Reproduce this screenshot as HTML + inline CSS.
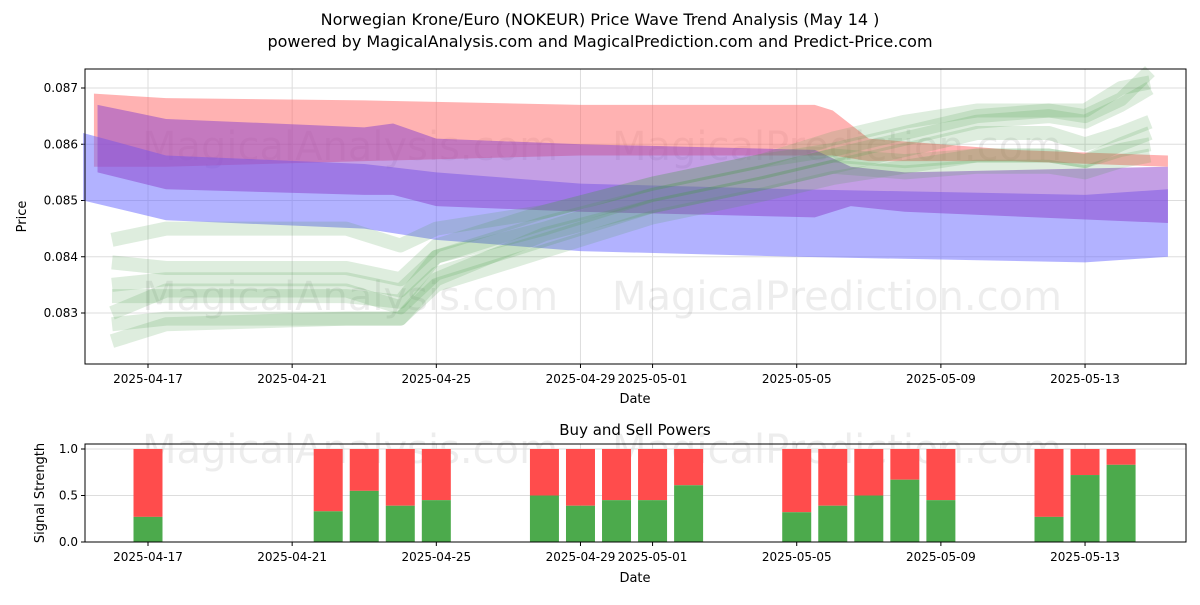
<!DOCTYPE html>
<html><head><meta charset="utf-8"><style>
body{margin:0;background:#fff;font-family:"Liberation Sans","DejaVu Sans",sans-serif;}
svg text{font-family:"DejaVu Sans","Liberation Sans",sans-serif;}
</style></head><body>
<svg id="c" width="1200" height="600" xmlns="http://www.w3.org/2000/svg">
<rect width="1200" height="600" fill="#fff"/>
<text x="600" y="25" text-anchor="middle" font-size="16">Norwegian Krone/Euro (NOKEUR) Price Wave Trend Analysis (May 14 )</text>
<text x="600" y="47" text-anchor="middle" font-size="16">powered by MagicalAnalysis.com and MagicalPrediction.com and Predict-Price.com</text>
<g id="topg"></g><g id="botg"></g>
</svg>
<script>
const tickDays=[2,6,10,14,16,20,24,28];
const tickLabels=["2025-04-17","2025-04-21","2025-04-25","2025-04-29","2025-05-01","2025-05-05","2025-05-09","2025-05-13"];
const priceTicks=[0.083,0.084,0.085,0.086,0.087];
const redDays=[0.5,2.5,8,14,20.5,21,22,26,30.3];
const redUp=[0.0869,0.08682,0.08678,0.0867,0.0867,0.0866,0.0861,0.0859,0.0858];
const redLo=[0.0856,0.0856,0.0857,0.0858,0.0858,0.0858,0.0857,0.0857,0.0856];
const purDays=[0.6,2.5,8,8.8,10,14,20.5,21.5,23,30.3];
const purUp=[0.0867,0.08645,0.0863,0.08637,0.0861,0.0860,0.0859,0.0856,0.0855,0.0856];
const purLo=[0.0855,0.0852,0.0851,0.0851,0.0849,0.0848,0.0847,0.0849,0.0848,0.0846];
const bluDays=[0.2,2.5,8,10,14,20,28,30.3];
const bluUp=[0.0862,0.0858,0.08565,0.0855,0.0853,0.0852,0.0851,0.0852];
const bluLo=[0.0850,0.08465,0.0845,0.0843,0.0841,0.0840,0.0839,0.0840];
const greenDays=[1,2.5,7.5,9,10,13,16,19,21,23,25,27,28,29,29.8];
const greenSeries=[
[0.0843,0.0845,0.0845,0.0842,0.0845,0.0848,0.0853,0.0857,0.0861,0.0864,0.0866,0.0866,0.0866,0.0870,0.0871],
[0.0835,0.0836,0.0836,0.0834,0.0840,0.0845,0.0851,0.0855,0.0858,0.0861,0.0864,0.0865,0.0864,0.0867,0.0870],
[0.0830,0.0834,0.0834,0.0831,0.0837,0.0843,0.0849,0.0853,0.0856,0.0859,0.0862,0.0862,0.0860,0.0862,0.0864],
[0.0828,0.0829,0.0829,0.0829,0.0835,0.0841,0.0847,0.0851,0.0854,0.0856,0.0858,0.0858,0.0857,0.0860,0.0862],
[0.0833,0.0833,0.0833,0.0832,0.0840,0.0846,0.0851,0.0855,0.0858,0.0857,0.0858,0.0858,0.0857,0.0859,0.0860],
[0.0825,0.0828,0.0829,0.0829,0.0836,0.0844,0.0849,0.0853,0.0856,0.0855,0.0856,0.0856,0.0855,0.0857,0.0858],
[0.0839,0.0838,0.0838,0.0836,0.0842,0.0848,0.0853,0.0857,0.0859,0.0862,0.0865,0.0866,0.0865,0.0868,0.0873]];
const barDays=[2,7,8,9,10,13,14,15,16,17,20,21,22,23,24,27,28,29];
const buyVals=[0.27,0.33,0.55,0.39,0.45,0.5,0.39,0.45,0.45,0.61,0.32,0.39,0.5,0.67,0.45,0.27,0.72,0.83];
const NS="http://www.w3.org/2000/svg";
function mk(p,t,a,txt){const e=document.createElementNS(NS,t);for(const k in a)e.setAttribute(k,a[k]);if(txt!==undefined)e.textContent=txt;p.appendChild(e);return e;}
const L=85,R=1186,T1=69,B1=364,T2=444,B2=542;
const xs=d=>148+(d-2)*36.04;
const ys=v=>88+(0.087-v)*56250;
const yb=v=>542-v*93;
const gTop=document.getElementById('topg'),gBot=document.getElementById('botg');
tickDays.forEach((d,i)=>{const x=xs(d);
 let l=mk(gTop,'line',{x1:x,x2:x,y1:T1,y2:B1,stroke:'#ddd'});
 
 
 mk(gTop,'line',{x1:x,x2:x,y1:B1,y2:B1+4,stroke:'#000'});
 let t=mk(gTop,'text',{x:x,y:B1+19,'text-anchor':'middle','font-size':12},tickLabels[i]);
 
 
 mk(gBot,'line',{x1:x,x2:x,y1:T2,y2:B2,stroke:'#ddd'});
 mk(gBot,'line',{x1:x,x2:x,y1:B2,y2:B2+4,stroke:'#000'});
 let t2=mk(gBot,'text',{x:x,y:B2+19,'text-anchor':'middle','font-size':12},tickLabels[i]);
 
 
});
priceTicks.forEach(v=>{const y=ys(v);
 mk(gTop,'line',{x1:L,x2:R,y1:y,y2:y,stroke:'#ddd'});
 mk(gTop,'line',{x1:L-4,x2:L,y1:y,y2:y,stroke:'#000'});
 let t=mk(gTop,'text',{x:L-7,y:y+4,'text-anchor':'end','font-size':12},v.toFixed(3));
 
 
});
const wm=[[350,160],[837,160],[350,310],[837,310]];
["MagicalAnalysis.com","MagicalPrediction.com","MagicalAnalysis.com","MagicalPrediction.com"].forEach((s,i)=>{mk(gTop,'text',{x:wm[i][0],y:wm[i][1],'text-anchor':'middle','font-size':40,fill:'#000','fill-opacity':0.07},s);});
function band(days,up,lo,col,op,name){let pts=days.map((d,i)=>xs(d)+','+ys(up[i]));for(let i=days.length-1;i>=0;i--)pts.push(xs(days[i])+','+ys(lo[i]));
 const p=mk(gTop,'polygon',{points:pts.join(' '),fill:col,'fill-opacity':op});
 
 }
band(redDays,redUp,redLo,'#ff6666',0.5,'red-band');
band(bluDays,bluUp,bluLo,'#6666ff',0.5,'blue-band');
band(purDays,purUp,purLo,'#8a3fcc',0.5,'purple-band');
greenSeries.forEach((s,k)=>{const p=mk(gTop,'polyline',{points:greenDays.map((d,i)=>xs(d)+','+ys(s[i])).join(' '),fill:'none',stroke:'#4a9a4a','stroke-opacity':0.18,'stroke-width':14,'stroke-linejoin':'round'});
 
 });
mk(gTop,'rect',{x:L,y:T1,width:R-L,height:B1-T1,fill:'none',stroke:'#000'});
let yl=mk(gTop,'text',{x:26,y:(T1+B1)/2,'text-anchor':'middle','font-size':13,transform:`rotate(-90 26 ${(T1+B1)/2})`},'Price');


let xl=mk(gTop,'text',{x:635,y:403,'text-anchor':'middle','font-size':13},'Date');


mk(gBot,'text',{x:635,y:435,'text-anchor':'middle','font-size':15},'Buy and Sell Powers');
["MagicalAnalysis.com","MagicalPrediction.com"].forEach((s,i)=>{mk(gBot,'text',{x:[350,837][i],y:463,'text-anchor':'middle','font-size':40,fill:'#000','fill-opacity':0.07},s);});
[0,0.5,1].forEach(v=>{const y=yb(v);mk(gBot,'line',{x1:L,x2:R,y1:y,y2:y,stroke:'#ddd'});mk(gBot,'line',{x1:L-4,x2:L,y1:y,y2:y,stroke:'#000'});
 mk(gBot,'text',{x:L-7,y:y+4,'text-anchor':'end','font-size':12},v.toFixed(1));});
barDays.forEach((d,i)=>{const x=xs(d)-14.5,w=29;
 const r=mk(gBot,'rect',{x:x,y:yb(1),width:w,height:yb(buyVals[i])-yb(1),fill:'#ff4c4c'});
 
 
 const g=mk(gBot,'rect',{x:x,y:yb(buyVals[i]),width:w,height:B2-yb(buyVals[i]),fill:'#4caa4c'});
 
 });
mk(gBot,'rect',{x:L,y:T2,width:R-L,height:B2-T2,fill:'none',stroke:'#000'});
mk(gBot,'text',{x:44,y:493,'text-anchor':'middle','font-size':13,transform:'rotate(-90 44 493)'},'Signal Strength');
mk(gBot,'text',{x:635,y:582,'text-anchor':'middle','font-size':13},'Date');
</script>
</body></html>
